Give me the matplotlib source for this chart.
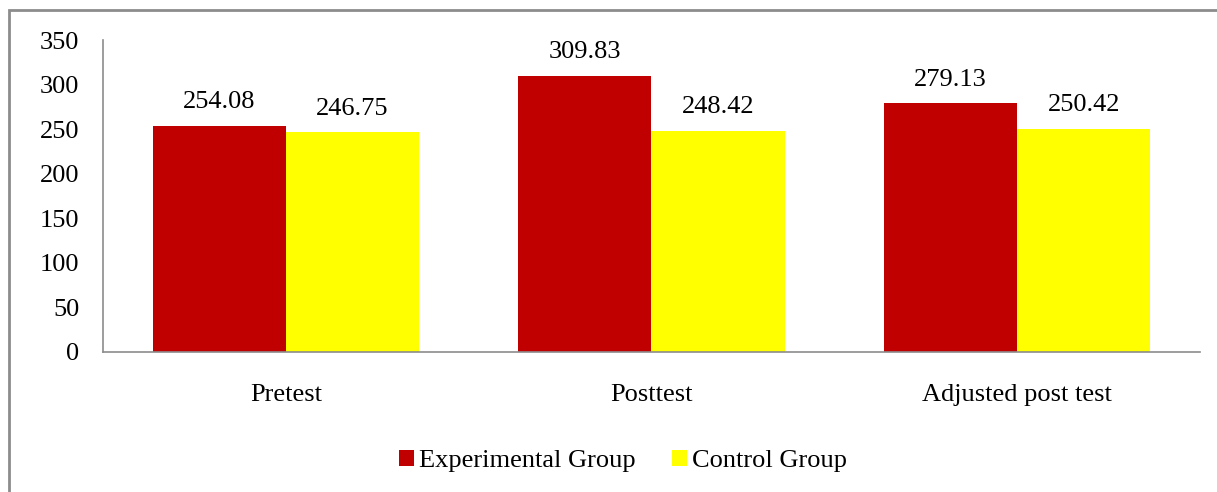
import numpy as np
import matplotlib.pyplot as plt
from matplotlib.patches import Rectangle

plt.rcParams['font.family'] = ['Liberation Serif', 'DejaVu Serif']

# data
categories = ['Pretest', 'Posttest', 'Adjusted post test']
experimental = [254.08, 309.83, 279.13]
control = [246.75, 248.42, 250.42]
yticks = [0, 50, 100, 150, 200, 250, 300, 350]

fig = plt.figure(figsize=(12.17, 4.92), dpi=100)
ax = fig.add_axes([0.0846, 0.2846, 0.9014, 0.634])

x = np.arange(len(categories))
w = 0.364
b1 = ax.bar(x - w / 2, experimental, w, color='#C00000', label='Experimental Group')
b2 = ax.bar(x + w / 2, control, w, color='#FFFF00', label='Control Group')

for bars, vals in ((b1, experimental), (b2, control)):
    for rect, v in zip(bars, vals):
        ax.annotate(f'{v:.2f}', (rect.get_x() + rect.get_width() / 2, v),
                    xytext=(0, 9), textcoords='offset points',
                    ha='center', va='bottom', fontsize=19)

ax.set_xlim(-0.5, 2.5)
ax.set_ylim(0, 350)
ax.set_yticks(yticks)
ax.set_xticks(x)
ax.set_xticklabels(categories)
ax.tick_params(axis='y', length=0, pad=17, labelsize=19)
ax.tick_params(axis='x', length=0, pad=23, labelsize=19)
for s in ('top', 'right'):
    ax.spines[s].set_visible(False)
for s in ('left', 'bottom'):
    ax.spines[s].set_color('#8c8c8c')
    ax.spines[s].set_linewidth(1.2)

fig.legend(loc='center', bbox_to_anchor=(0.512, 0.063), ncol=2, frameon=False,
           fontsize=19, handlelength=0.55, handleheight=0.55, handletextpad=0.2,
           columnspacing=1.4)

# outer border of chart area
fig.patches.append(Rectangle((9 / 1217, -0.1), 1.2, 1 - 10 / 492 + 0.1,
                             transform=fig.transFigure, fill=False,
                             edgecolor='#8c8c8c', linewidth=2))

fig.savefig('out.png', dpi=100)
